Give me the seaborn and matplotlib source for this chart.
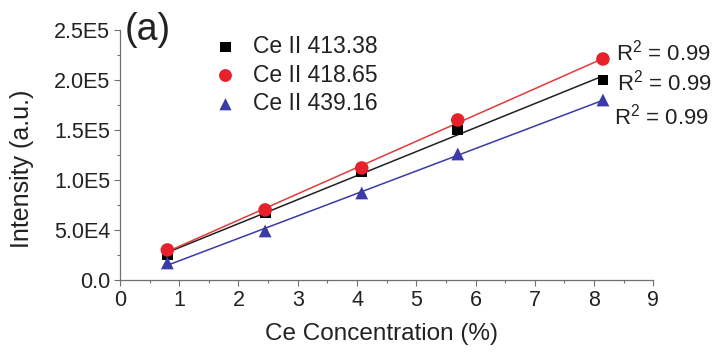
import matplotlib
matplotlib.use("Agg")
import matplotlib.pyplot as plt
from matplotlib.ticker import MultipleLocator, FixedLocator
import seaborn as sns
import pandas as pd

concentration = [0.8, 2.45, 4.08, 5.7, 8.15]
ce_413 = [25000, 67000, 108000, 150000, 200000]
ce_418 = [30000, 70000, 112000, 160000, 221000]
ce_439 = [17000, 49000, 87000, 126000, 180000]
series_names = ["Ce II 413.38", "Ce II 418.65", "Ce II 439.16"]
r2_labels = ["R$^2$ = 0.99", "R$^2$ = 0.99", "R$^2$ = 0.99"]
y_ticks = [0, 50000, 100000, 150000, 200000, 250000]
y_tick_labels = ["0.0", "5.0E4", "1.0E5", "1.5E5", "2.0E5", "2.5E5"]

sns.set_style("ticks")
plt.rcParams["font.family"] = ["Liberation Sans", "DejaVu Sans"]
plt.rcParams["mathtext.fontset"] = "custom"
plt.rcParams["mathtext.rm"] = "Liberation Sans"

fig = plt.figure(figsize=(7.14, 3.53), dpi=100)
ax = fig.add_axes([0.168, 0.207, 0.747, 0.708])

colors = ["#000000", "#e8202a", "#3a3aa8"]
line_colors = ["#202020", "#e03a3a", "#3a3aa8"]
markers = ["s", "o", "^"]
sizes = [60, 95, 85]

df = pd.DataFrame({
    "x": concentration * 3,
    "y": ce_413 + ce_418 + ce_439,
    "series": sum([[n] * len(concentration) for n in series_names], []),
})

for name, lc in zip(series_names, line_colors):
    sub = df[df["series"] == name]
    sns.regplot(data=sub, x="x", y="y", ax=ax, scatter=False, ci=None,
                line_kws={"color": lc, "lw": 1.1})
for name, c, m, s in zip(series_names, colors, markers, sizes):
    sub = df[df["series"] == name]
    ax.scatter(sub["x"], sub["y"], marker=m, s=s, color=c, label=name,
               zorder=5, edgecolors="none")

ax.set_xlim(0, 9)
ax.set_ylim(0, 250000)
ax.xaxis.set_major_locator(MultipleLocator(1))
ax.xaxis.set_minor_locator(MultipleLocator(0.5))
ax.yaxis.set_major_locator(FixedLocator(y_ticks))
ax.set_yticklabels(y_tick_labels)
ax.yaxis.set_minor_locator(MultipleLocator(25000))
ax.tick_params(axis="both", which="major", labelsize=15.5, length=4, width=0.8,
               color="#707070", pad=3, labelcolor="#222222")
ax.tick_params(axis="both", which="minor", length=2.5, width=0.8, color="#707070")
for sp in ["top", "right"]:
    ax.spines[sp].set_visible(False)
for sp in ["left", "bottom"]:
    ax.spines[sp].set_color("#707070")
    ax.spines[sp].set_linewidth(0.9)

ax.set_xlabel("Ce Concentration (%)", fontsize=17.5, color="#222222")
ax.xaxis.set_label_coords(0.49, -0.172)
ax.set_ylabel("Intensity (a.u.)", fontsize=18, color="#222222")
ax.yaxis.set_label_coords(-0.162, 0.444)

ax.text(0.009, 1.072, "(a)", transform=ax.transAxes, fontsize=27, va="top",
        ha="left", color="#222222")

leg = ax.legend(loc="upper left", bbox_to_anchor=(0.142, 1.045), frameon=False,
                fontsize=16.5, handletextpad=0.6, labelspacing=0.25,
                markerscale=0.95, borderaxespad=0.3, handlelength=1.2)
for t in leg.get_texts():
    t.set_color("#222222")

r2_y = [ce_418[-1] + 6000, ce_413[-1] - 3000, ce_439[-1] - 17000]
r2_x = [concentration[-1] + 0.22, concentration[-1] + 0.24, concentration[-1] + 0.19]
for lab, xx, yy in zip(r2_labels, r2_x, r2_y):
    ax.text(xx, yy, lab, fontsize=16, va="center", ha="left", color="#222222")

fig.savefig("out.png", dpi=100, facecolor="white")
